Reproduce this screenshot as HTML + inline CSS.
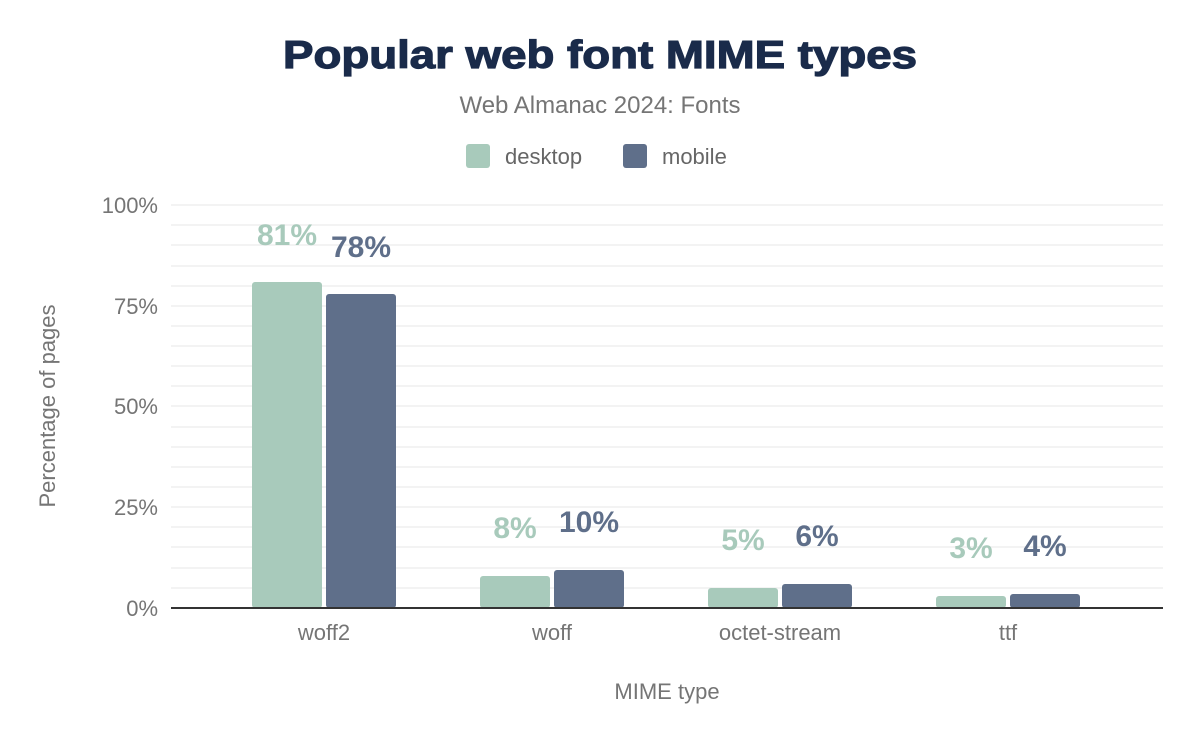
<!DOCTYPE html>
<html><head><style>
body{margin:0;background:#fff;font-family:"Liberation Sans",sans-serif}
</style></head><body>
<svg width="1200" height="742" xmlns="http://www.w3.org/2000/svg" font-family="Liberation Sans, sans-serif">
<rect width="1200" height="742" fill="#fff"/>
<text x="600" y="68" text-anchor="middle" font-size="39" font-weight="900" fill="#1a2b4a" stroke="#1a2b4a" stroke-width="1.2" textLength="634" lengthAdjust="spacingAndGlyphs">Popular web font MIME types</text>
<text x="600" y="113" text-anchor="middle" font-size="24" fill="#757575">Web Almanac 2024: Fonts</text>
<rect x="466" y="144" width="24" height="24" rx="3" fill="#a8cabb"/>
<text x="505" y="164" font-size="22" fill="#666">desktop</text>
<rect x="623" y="144" width="24" height="24" rx="3" fill="#5f6f8a"/>
<text x="662" y="164" font-size="22" fill="#666">mobile</text>
<g stroke="#f3f3f3" stroke-width="2">
<line x1="171" x2="1163" y1="205" y2="205"/><line x1="171" x2="1163" y1="225" y2="225"/><line x1="171" x2="1163" y1="245" y2="245"/><line x1="171" x2="1163" y1="266" y2="266"/><line x1="171" x2="1163" y1="286" y2="286"/><line x1="171" x2="1163" y1="306" y2="306"/><line x1="171" x2="1163" y1="326" y2="326"/><line x1="171" x2="1163" y1="346" y2="346"/><line x1="171" x2="1163" y1="366" y2="366"/><line x1="171" x2="1163" y1="386" y2="386"/><line x1="171" x2="1163" y1="406" y2="406"/><line x1="171" x2="1163" y1="427" y2="427"/><line x1="171" x2="1163" y1="447" y2="447"/><line x1="171" x2="1163" y1="467" y2="467"/><line x1="171" x2="1163" y1="487" y2="487"/><line x1="171" x2="1163" y1="507" y2="507"/><line x1="171" x2="1163" y1="527" y2="527"/><line x1="171" x2="1163" y1="547" y2="547"/><line x1="171" x2="1163" y1="568" y2="568"/><line x1="171" x2="1163" y1="588" y2="588"/>
</g>
<g font-size="22" fill="#757575" text-anchor="end">
<text x="158" y="213">100%</text><text x="158" y="314">75%</text><text x="158" y="414">50%</text><text x="158" y="515">25%</text><text x="158" y="616">0%</text>
</g>
<text transform="translate(55,406) rotate(-90)" text-anchor="middle" font-size="22" fill="#757575">Percentage of pages</text>
<g fill="#a8cabb">
<rect x="252" y="282" width="70" height="326" rx="3"/><rect x="480" y="576" width="70" height="32" rx="3"/><rect x="708" y="588" width="70" height="20" rx="3"/><rect x="936" y="596" width="70" height="12" rx="3"/>
</g>
<g fill="#5f6f8a">
<rect x="326" y="294" width="70" height="314" rx="3"/><rect x="554" y="570" width="70" height="38" rx="3"/><rect x="782" y="584" width="70" height="24" rx="3"/><rect x="1010" y="594" width="70" height="14" rx="3"/>
</g>
<line x1="171" x2="1163" y1="608" y2="608" stroke="#333" stroke-width="2"/>
<g font-size="30" font-weight="bold" text-anchor="middle" fill="#a8cabb">
<text x="287" y="245">81%</text><text x="515" y="538">8%</text><text x="743" y="550">5%</text><text x="971" y="558">3%</text>
</g>
<g font-size="30" font-weight="bold" text-anchor="middle" fill="#5f6f8a">
<text x="361" y="257">78%</text><text x="589" y="532">10%</text><text x="817" y="546">6%</text><text x="1045" y="556">4%</text>
</g>
<g font-size="22" fill="#757575" text-anchor="middle">
<text x="324" y="640">woff2</text><text x="552" y="640">woff</text><text x="780" y="640">octet-stream</text><text x="1008" y="640">ttf</text>
</g>
<text x="667" y="699" text-anchor="middle" font-size="22" fill="#757575">MIME type</text>
</svg>
</body></html>
